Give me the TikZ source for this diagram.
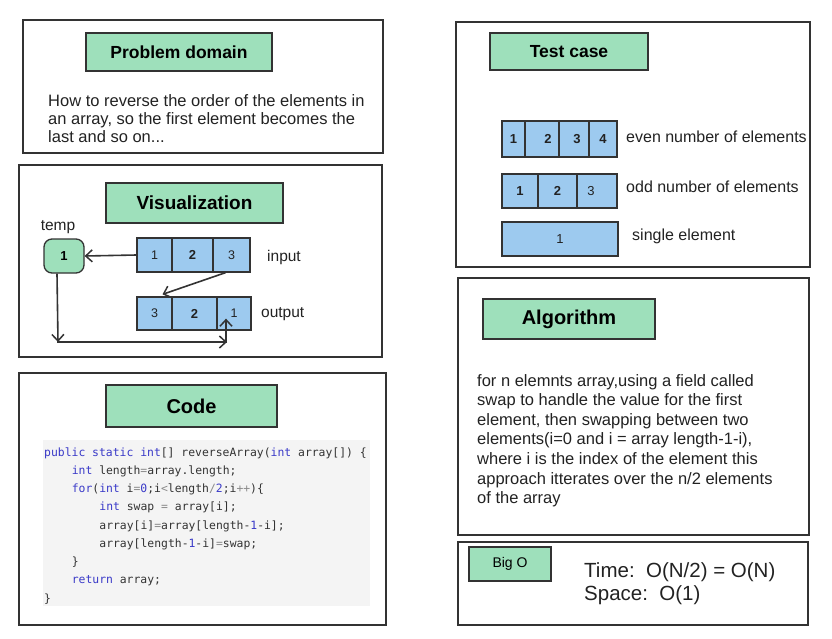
\documentclass[tikz,border=0pt]{standalone}
\usepackage{fontspec}
\setmainfont{Liberation Sans}
\setmonofont{DejaVu Sans Mono}
\usetikzlibrary{arrows.meta,shadows}
\definecolor{boxline}{HTML}{333333}
\definecolor{titlegreen}{HTML}{9EE0BB}
\definecolor{cellblue}{HTML}{9DCAEF}
\definecolor{codebg}{HTML}{F4F4F4}
\definecolor{codekw}{HTML}{3A3AC8}
\definecolor{codeop}{HTML}{8A8A8A}
\definecolor{codetx}{HTML}{333333}
\definecolor{txt}{HTML}{222222}
\newcommand\kw[1]{\textcolor{codekw}{#1}}
\newcommand\opr[1]{\textcolor{codeop}{#1}}
\tikzset{
  outerbox/.style={draw=boxline, line width=1.4pt},
  titlebox/.style={draw=boxline, fill=titlegreen, line width=1.4pt, inner sep=0pt,
    drop shadow={shadow xshift=1.2pt, shadow yshift=-1.2pt, fill=black!30, opacity=0.6},
    font=\bfseries, text=black},
  cell/.style={draw=boxline, fill=cellblue, line width=1.3pt, inner sep=0pt,
    font=\fontsize{12.5}{14}\selectfont, text=txt},
  boldcell/.style={cell, font=\bfseries\fontsize{13}{15}\selectfont},
  lbl/.style={inner sep=0pt, anchor=west, text=txt},
  para/.style={inner sep=0pt, anchor=base west, text=txt},
  codeln/.style={inner sep=0pt, anchor=base west, text=codetx,
    font=\ttfamily\fontsize{11.4}{13}\selectfont},
  conn/.style={draw=boxline, line width=1.6pt, -{Straight Barb[length=6.5pt,width=12pt,line width=1.5pt]}},
}
\begin{document}
\begin{tikzpicture}[x=1pt,y=-1pt]
\useasboundingbox (0,0) rectangle (832,638);
\fill[white] (0,0) rectangle (832,638);

% ---------------- Problem domain ----------------
\draw[outerbox] (23,20) rectangle (383,153);
\node[titlebox, minimum width=186pt, minimum height=38pt, font=\bfseries\fontsize{17.5}{20}\selectfont] (pdtitle) at (179,52) {Problem domain};
\begin{scope}[every node/.style={para, font=\fontsize{16.5}{19}\selectfont}]
\node (pd1) at (48,106.5) {How to reverse the order of the elements in};
\node (pd2) at (48,124.5) {an array, so the first element becomes the};
\node (pd3) at (48,142.5) {last and so on...};
\end{scope}

% ---------------- Visualization ----------------
\draw[outerbox] (19,165) rectangle (382,357);
\node[titlebox, minimum width=177pt, minimum height=40pt, font=\bfseries\fontsize{19}{22}\selectfont] (vistitle) at (194.5,203) {Visualization};
\node[inner sep=0pt, text=txt, font=\fontsize{15.5}{17}\selectfont] (templbl) at (58,227) {temp};
\node[draw=boxline, fill=titlegreen, line width=1.3pt, rounded corners=8pt, minimum width=40pt, minimum height=34pt, inner sep=0pt, font=\bfseries\fontsize{13}{15}\selectfont] (temp) at (64,256) {1};
% input
\node[cell, minimum width=35pt, minimum height=34pt] (in1) at (154.5,255) {1};
\node[boldcell, minimum width=41pt, minimum height=34pt] (in2) at (192.5,255) {2};
\node[cell, minimum width=37pt, minimum height=34pt] (in3) at (231.5,255) {3};
\node[lbl, font=\fontsize{15.5}{17}\selectfont] (inlbl) at (267,257) {input};
% output
\node[cell, minimum width=35pt, minimum height=33pt] (out1) at (154.5,313.5) {3};
\node[boldcell, minimum width=45pt, minimum height=33pt] (out2) at (194.5,313.5) {2};
\node[cell, minimum width=34pt, minimum height=33pt] (out3) at (234,313.5) {1};
\node[lbl, font=\fontsize{15.5}{17}\selectfont] (outlbl) at (261,314) {output};
% connectors
\coordinate (c1) at (58,342);
\coordinate (c2) at (227,342);
\draw[conn] (in1.west) -- (temp.east);
\draw[conn] ([xshift=-6pt]in3.south) -- ([xshift=8pt,yshift=2pt]out1.north);
\draw[conn] ([xshift=-7pt]temp.south) -- (c1);
\draw[conn] ([xshift=-1pt]c1) -- (c2);
\draw[conn] ([xshift=-1pt,yshift=-1pt]c2) -- ([xshift=-8pt,yshift=12pt]out3.south);

% ---------------- Code ----------------
\draw[outerbox] (19,373) rectangle (386,625);
\node[titlebox, minimum width=171pt, minimum height=42pt, font=\bfseries\fontsize{20}{23}\selectfont] (codetitle) at (191.5,406) {Code};
\fill[codebg] (43,440) rectangle (370,606);
\node[codeln] (cl1) at (44,456) {\kw{public} \kw{static} \kw{int}[] reverseArray(\kw{int} array[]) \{};
\node[codeln] (cl2) at (71.6,474.25) {\kw{int} length\opr{=}array.length;};
\node[codeln] (cl3) at (71.6,492.5) {\kw{for}(\kw{int} i\opr{=}\kw{0};i\opr{<}length\opr{/}\kw{2};i\opr{++})\{};
\node[codeln] (cl4) at (99.2,510.75) {\kw{int} swap \opr{=} array[i];};
\node[codeln] (cl5) at (99.2,529) {array[i]\opr{=}array[length-\kw{1}-i];};
\node[codeln] (cl6) at (99.2,547.25) {array[length-\kw{1}-i]\opr{=}swap;};
\node[codeln] (cl7) at (71.6,565.5) {\}};
\node[codeln] (cl8) at (71.6,583.75) {\kw{return} array;};
\node[codeln] (cl9) at (44,602) {\}};

% ---------------- Test case ----------------
\draw[outerbox] (456,22) rectangle (810,267);
\node[titlebox, minimum width=158pt, minimum height=37pt, font=\bfseries\fontsize{17.5}{20}\selectfont] (tctitle) at (569,51.5) {Test case};
% even
\node[boldcell, minimum width=23pt, minimum height=36pt] (e1) at (513.5,139) {1};
\node[boldcell, minimum width=34pt, minimum height=36pt] (e2) at (542,139) {\hspace*{12pt}2};
\node[boldcell, minimum width=30pt, minimum height=36pt] (e3) at (574,139) {\hspace*{6pt}3};
\node[boldcell, minimum width=28pt, minimum height=36pt] (e4) at (603,139) {4};
\node[lbl, font=\fontsize{16}{18}\selectfont] (evenlbl) at (626,137) {even number of elements};
% odd
\node[boldcell, minimum width=36pt, minimum height=34pt] (o1) at (520,191) {1};
\node[boldcell, minimum width=39pt, minimum height=34pt] (o2) at (557.5,191) {2};
\node[cell, minimum width=40pt, minimum height=34pt, font=\fontsize{13}{15}\selectfont] (o3) at (597,191) {\hspace*{-12pt}3};
\node[lbl, font=\fontsize{16}{18}\selectfont] (oddlbl) at (626,187) {odd number of elements};
% single
\node[cell, minimum width=116pt, minimum height=34pt, font=\fontsize{13}{15}\selectfont] (s1) at (560,239) {1};
\node[lbl, font=\fontsize{16}{18}\selectfont] (singlelbl) at (632,236) {single element};

% ---------------- Algorithm ----------------
\draw[outerbox] (458,278) rectangle (809,535);
\node[titlebox, minimum width=172pt, minimum height=40pt, font=\bfseries\fontsize{20}{23}\selectfont] (algtitle) at (569,319) {Algorithm};
\begin{scope}[every node/.style={para, font=\fontsize{16.5}{19}\selectfont}]
\node (al1) at (477,386) {for n elemnts array,using a field called};
\node (al2) at (477,405.6) {swap to handle the value for the first};
\node (al3) at (477,425.2) {element, then swapping between two};
\node (al4) at (477,444.8) {elements(i=0 and i = array length-1-i),};
\node (al5) at (477,464.4) {where i is the index of the element this};
\node (al6) at (477,484) {approach itterates over the n/2 elements};
\node (al7) at (477,503.6) {of the array};
\end{scope}

% ---------------- Big O ----------------
\draw[outerbox] (458,542) rectangle (808,625);
\node[titlebox, minimum width=82pt, minimum height=34pt, font=\fontsize{14}{16}\selectfont] (bigotitle) at (510,564) {\raisebox{2pt}{Big O}};
\node[para, font=\fontsize{20.5}{23}\selectfont] (time) at (584,577) {Time:\ \ O(N/2) = O(N)};
\node[para, font=\fontsize{20.5}{23}\selectfont] (space) at (584,600) {Space:\ \ O(1)};
\end{tikzpicture}
\end{document}
